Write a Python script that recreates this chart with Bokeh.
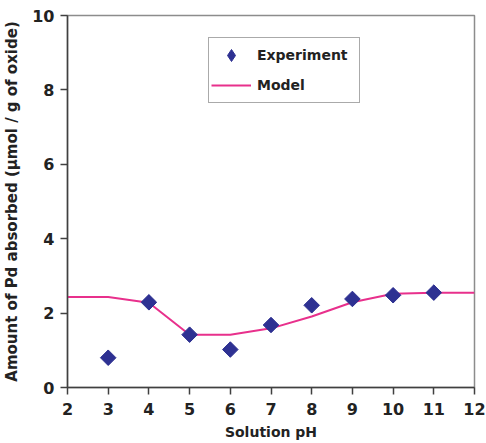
import math
from bokeh.plotting import figure
from bokeh.models import Range1d, FixedTicker, Legend, LegendItem
from bokeh.embed import file_html
from bokeh.resources import INLINE

exp_ph = [3, 4, 5, 6, 7, 8, 9, 10, 11]
exp_val = [0.80, 2.29, 1.42, 1.02, 1.68, 2.21, 2.38, 2.48, 2.55]
model_ph = [2, 3, 4, 5, 6, 7, 8, 9, 10, 11, 12]
model_val = [2.43, 2.43, 2.28, 1.42, 1.42, 1.59, 1.91, 2.29, 2.52, 2.55, 2.55]
x_ticks = [2, 3, 4, 5, 6, 7, 8, 9, 10, 11, 12]
y_ticks = [0, 2, 4, 6, 8, 10]

FONT = "DejaVu Sans"
NAVY = "#2e3192"

p = figure(width=486, height=443, output_backend="svg", toolbar_location=None,
           x_range=Range1d(2, 12), y_range=Range1d(0, 10),
           min_border_left=67, min_border_right=12, min_border_top=15, min_border_bottom=56)
p.outline_line_color = "#8c8c8c"
p.outline_line_width = 1.5
p.grid.visible = False
p.background_fill_color = "white"

line = p.line(model_ph, model_val, line_color="#e8308c", line_width=2)
# diamond marker (used for the legend symbol), fully covered by the rotated squares
pts_leg = p.scatter(exp_ph, exp_val, marker="diamond", size=14,
                    fill_color=NAVY, line_color=NAVY)
pts = p.scatter(exp_ph, exp_val, marker="square", angle=math.pi / 4, size=11,
                fill_color=NAVY, line_color=NAVY)

for ax in (p.xaxis[0], p.yaxis[0]):
    ax.axis_line_color = "#404040"
    ax.axis_line_width = 1.5
    ax.major_tick_line_color = "#404040"
    ax.major_tick_line_width = 1.5
    ax.major_tick_out = 7
    ax.major_tick_in = 0
    ax.minor_tick_line_color = None
    ax.major_label_text_font = FONT
    ax.major_label_text_font_style = "bold"
    ax.major_label_text_font_size = "16px"
    ax.major_label_text_color = "#222222"
    ax.axis_label_text_font = FONT
    ax.axis_label_text_font_style = "bold"
    ax.axis_label_text_color = "#222222"

p.xaxis.axis_label_text_font_size = "14px"
p.yaxis.axis_label_text_font_size = "15px"
p.xaxis.ticker = FixedTicker(ticks=x_ticks)
p.yaxis.ticker = FixedTicker(ticks=y_ticks)
p.xaxis.axis_label = "Solution pH"
p.yaxis.axis_label = "Amount of Pd absorbed (\u03bcmol / g of oxide)"
p.xaxis.major_label_standoff = 8
p.yaxis.major_label_standoff = 6
p.xaxis.axis_label_standoff = 6
p.yaxis.axis_label_standoff = 8

legend = Legend(items=[LegendItem(label="Experiment", renderers=[pts_leg]),
                       LegendItem(label="Model", renderers=[line])],
                location=(141, 284))
legend.border_line_color = "#555555"
legend.border_line_width = 1.5
legend.label_text_font = FONT
legend.label_text_font_style = "bold"
legend.label_text_font_size = "14px"
legend.label_text_color = "#222222"
legend.glyph_width = 40
legend.glyph_height = 30
legend.label_height = 18
legend.label_width = 100
legend.padding = 2
legend.margin = 0
legend.spacing = 0
legend.label_standoff = 6
legend.background_fill_alpha = 1
p.add_layout(legend, "center")

open("out.html", "w").write(file_html(p, INLINE))
